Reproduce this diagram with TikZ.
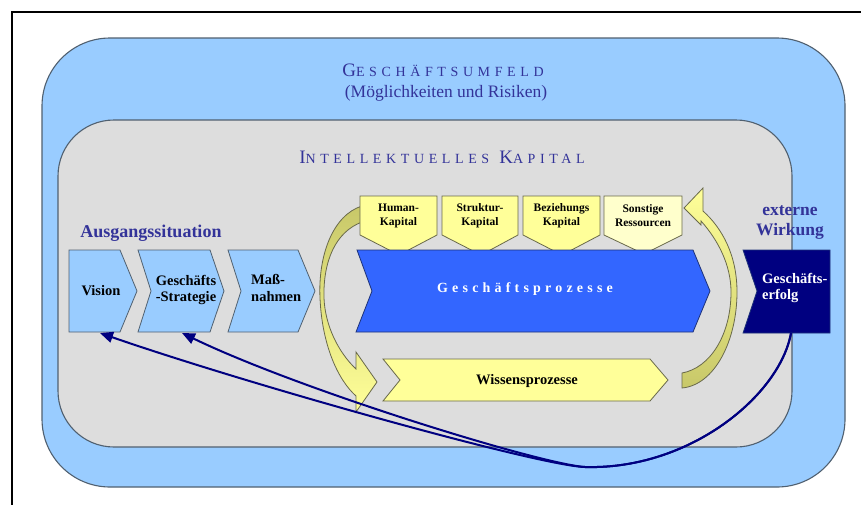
\documentclass[tikz,border=0pt]{standalone}
\usepackage{fontspec}
\setmainfont{Liberation Serif}
\newfontfamily\spacedserif{Liberation Serif}[LetterSpace=33]
\newfontfamily\spacedbold{Liberation Serif}[LetterSpace=30,BoldFont={Liberation Serif Bold}]
\usetikzlibrary{arrows.meta}

\definecolor{envblue}{RGB}{153,204,255}
\definecolor{capgray}{RGB}{221,221,221}
\definecolor{rimline}{RGB}{80,96,112}
\definecolor{titleblue}{RGB}{51,51,153}
\definecolor{procblue}{RGB}{51,102,255}
\definecolor{procrim}{RGB}{30,50,120}
\definecolor{navyfill}{RGB}{0,0,128}
\definecolor{lightyel}{RGB}{255,255,153}
\definecolor{paleyel}{RGB}{255,255,204}
\definecolor{oliveyel}{RGB}{200,200,105}
\definecolor{yelrim}{RGB}{105,105,75}

% small caps imitation: large initial, smaller capitals
\newcommand{\initcap}[1]{{\fontsize{19}{19}\selectfont #1}}
\newcommand{\restcap}[1]{{\fontsize{14}{14}\selectfont #1}}

\begin{document}
\begin{tikzpicture}[x=1pt,y=-1pt,
  rim/.style={draw=rimline,line width=1.1pt},
  heading/.style={inner sep=0pt,text=titleblue,font=\spacedserif},
  sidelabel/.style={inner sep=0pt,text=titleblue,font=\bfseries\fontsize{18}{20}\selectfont,align=center},
  chevronbox/.style={draw=rimline,line width=0.8pt,fill=envblue},
  chevtext/.style={inner sep=0pt,font=\bfseries\fontsize{14.5}{16.5}\selectfont,align=center},
  capbox/.style={draw=yelrim,line width=0.8pt,fill=lightyel},
  captext/.style={inner sep=0pt,font=\bfseries\fontsize{11.5}{14}\selectfont,align=center},
  curvearrow/.style={draw=yelrim,line width=0.8pt},
  feedback/.style={draw=navyfill,line width=2pt,-{Triangle[length=13pt,width=11pt]}}]

\useasboundingbox (0,0) rectangle (861,504);
\fill[white] (0,0) rectangle (861,504);

% frame
\draw[line width=2.4pt] (12,510) -- (12,12) -- (866,12);

% business environment and intellectual capital
\draw[rim,fill=envblue,rounded corners=68pt] (42,38) rectangle (845,487);
\draw[rim,fill=capgray,rounded corners=56pt] (58,120) rectangle (792,447);

\node[heading] (env) at (443,70) {\initcap{G}\restcap{ESCHÄFTSUMFELD}};
\node[inner sep=0pt,text=titleblue,font=\fontsize{17.5}{18}\selectfont] (envsub) at (446,93) {(Möglichkeiten und Risiken)};
\node[heading] (ic) at (442,157) {\initcap{I}\restcap{NTELLEKTUELLES}\hspace{10pt}\initcap{K}\restcap{APITAL}};

\node[sidelabel] (start) at (151,233) {Ausgangssituation};
\node[sidelabel,font=\bfseries\fontsize{17.5}{20}\selectfont] (ext) at (790,222) {externe\\Wirkung};

% curved knowledge arrows
\path[curvearrow,top color=oliveyel,bottom color=lightyel]
  (362,206) .. controls (333,215) and (318,255) .. (320,298)
  .. controls (322,345) and (338,380) .. (356,396)
  -- (356,412) -- (377,382) -- (356,352) -- (356,369)
  .. controls (338,352) and (325,325) .. (324,298)
  .. controls (323,262) and (335,232) .. (362,222) -- cycle;
\path[curvearrow,top color=lightyel,bottom color=oliveyel]
  (682,388) .. controls (715,385) and (737,340) .. (737,292)
  .. controls (737,255) and (722,228) .. (703,211)
  -- (703,188) -- (684,208) -- (701,225) -- (701,221)
  .. controls (718,240) and (731,265) .. (731,292)
  .. controls (731,335) and (710,368) .. (682,373) -- cycle;

% capital types
\draw[capbox] (360,196) -- (437,196) -- (437,235) -- (399,255) -- (360,235) -- cycle;
\draw[capbox] (442,196) -- (518,196) -- (518,235) -- (481,255) -- (442,235) -- cycle;
\draw[capbox] (523,196) -- (600,196) -- (600,235) -- (562,255) -- (523,235) -- cycle;
\draw[capbox,fill=paleyel] (604,196) -- (682,196) -- (682,235) -- (644,254) -- (604,235) -- cycle;
\node[captext] (human) at (398.5,216) {Human-\\Kapital};
\node[captext] (struktur) at (480,216) {Struktur-\\Kapital};
\node[captext] (bezieh) at (561.5,216) {Beziehungs\\Kapital};
\node[captext] (sonst) at (643,216) {Sonstige\\Ressourcen};

% business and knowledge processes
\draw[draw=procrim,line width=0.8pt,fill=procblue]
  (357,250) -- (693,250) -- (710,291) -- (693,332) -- (356,332) -- (372,291) -- cycle;
\node[inner sep=0pt,text=white,font=\spacedbold\bfseries\fontsize{14}{16}\selectfont] (gp) at (525,289) {Geschäftsprozesse};
\draw[capbox]
  (383,359) -- (650,359) -- (668,380) -- (650,401) -- (383,401) -- (400,380) -- cycle;
\node[inner sep=0pt,font=\bfseries\fontsize{14.5}{16}\selectfont] (wp) at (527,381) {Wissensprozesse};

% starting situation
\draw[chevronbox] (69,250) -- (120,250) -- (137,291) -- (120,332) -- (69,332) -- cycle;
\draw[chevronbox] (138,250) -- (210,250) -- (224,291) -- (210,332) -- (138,332) -- (151,291) -- cycle;
\draw[chevronbox] (228,250) -- (298,250) -- (315,291) -- (298,332) -- (228,332) -- (241,291) -- cycle;
\node[chevtext] (vision) at (101,291) {Vision};
\node[chevtext] (strat) at (186,290) {Geschäfts\\-Strategie};
\node[chevtext,anchor=west,align=left] (mass) at (251,288) {Maß-\\nahmen};

% business success
\draw[draw=procrim,line width=0.8pt,fill=navyfill]
  (743,250) -- (830,250) -- (830,333) -- (743,333) -- (757,291) -- cycle;
\node[chevtext,anchor=west,align=left,text=white] (erfolg) at (762,288) {Geschäfts-\\erfolg};

% feedback to vision and strategy
\coordinate (erfolgfoot) at (791,333);
\coordinate (visionfoot) at (100,333);
\coordinate (stratfoot) at (182,333);
\path[feedback] (erfolgfoot) .. controls (780,395) and (690,470) .. (585,467)
  .. controls (540,466) and (250,385) .. (visionfoot);
\path[feedback] (erfolgfoot) .. controls (780,395) and (690,470) .. (585,467)
  .. controls (540,464) and (300,390) .. (stratfoot);
\end{tikzpicture}
\end{document}
